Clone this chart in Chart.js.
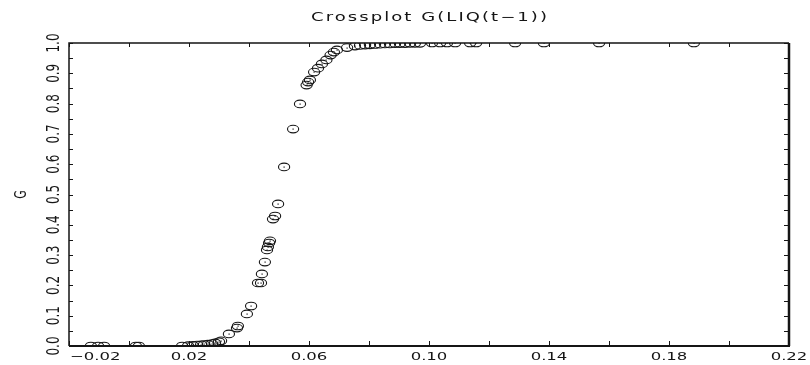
<!DOCTYPE html>
<html>
<head>
<meta charset="utf-8">
<script src="https://cdn.jsdelivr.net/npm/chart.js@4/dist/chart.umd.min.js"></script>
<style>
  html, body { margin: 0; padding: 0; background: #fff; }
  #wrap { width: 810px; height: 365px; position: relative; }
</style>
</head>
<body>
<div id="wrap"><canvas id="crossplot"></canvas></div>
<script>
// Crossplot of the transition function G against LIQ(t-1)
const chartTitle = 'Crossplot G(LIQ(t\u22121))';
const yTitle = 'G';

const liqValues = [
    -0.0127, -0.0103, -0.0083, 0.0023, 0.0033,
    0.0177, 0.0197, 0.0213, 0.0227, 0.0240, 0.0250, 0.0263, 0.0277, 0.0287, 0.0300, 0.0307,
    0.0333, 0.0360, 0.0363, 0.0393, 0.0407,
    0.0430, 0.0440, 0.0443, 0.0453, 0.0460, 0.0463, 0.0467, 0.0470, 0.0480, 0.0487, 0.0497,
    0.0517, 0.0547, 0.0570, 0.0592, 0.0597, 0.0603, 0.0617, 0.0630, 0.0643, 0.0658, 0.0672,
    0.0683, 0.0693, 0.0727,
    0.0753, 0.0770, 0.0787, 0.0803, 0.0820, 0.0837, 0.0853, 0.0870, 0.0887, 0.0903, 0.0920,
    0.0937, 0.0953, 0.0970,
    0.1010, 0.1037, 0.1060, 0.1087, 0.1137, 0.1157, 0.1287, 0.1383, 0.1567, 0.1883
];
const gValues = [
    0, 0, 0, 0, 0,
    0.000, 0.001, 0.002, 0.003, 0.004, 0.005, 0.006, 0.008, 0.010, 0.014, 0.017,
    0.040, 0.059, 0.066, 0.106, 0.132,
    0.208, 0.208, 0.238, 0.277, 0.317, 0.327, 0.340, 0.347, 0.419, 0.429, 0.469,
    0.591, 0.716, 0.799, 0.861, 0.871, 0.878, 0.904, 0.917, 0.931, 0.944, 0.960,
    0.970, 0.977, 0.985,
    0.990, 0.992, 0.993, 0.994, 0.995, 0.996, 0.997, 0.997, 0.998, 0.998, 0.998,
    0.999, 0.999, 0.999,
    1, 1, 1, 1, 1, 1, 1, 1, 1, 1
];

const xTickLabels = [-0.02, 0.02, 0.06, 0.10, 0.14, 0.18, 0.22];
const yTickLabels = [0.0, 0.1, 0.2, 0.3, 0.4, 0.5, 0.6, 0.7, 0.8, 0.9, 1.0];

const inkColor = '#151515';
const stretch = 1.5;   // the old plot is squashed wider than tall

function drawText(ctx, text, x, y, size, opts = {}) {
    ctx.save();
    ctx.font = size + 'px "DejaVu Sans"';
    ctx.fillStyle = inkColor;
    ctx.textAlign = opts.align || 'center';
    ctx.textBaseline = 'middle';
    let spacing = 0;
    if (opts.width) {
        const natural = ctx.measureText(text).width;
        spacing = Math.max(0, (opts.width / stretch - natural) / text.length);
        ctx.letterSpacing = spacing + 'px';
    }
    ctx.translate(x, y);
    if (!opts.noStretch) ctx.scale(stretch, 1);
    if (opts.rotate) ctx.rotate(-Math.PI / 2);
    const dx = ctx.textAlign === 'center' ? spacing / 2 : 0;
    ctx.fillText(text, dx, 0);
    ctx.restore();
}

// markers: open ellipse with a dot, placed where the scatter elements sit
const markerPlugin = {
    id: 'markers',
    afterDatasetsDraw(chart) {
        const { ctx, chartArea: a } = chart;
        const meta = chart.getDatasetMeta(0);
        ctx.save();
        ctx.beginPath();
        ctx.rect(a.left, a.top, a.right - a.left, a.bottom - a.top);
        ctx.clip();
        ctx.strokeStyle = inkColor;
        ctx.fillStyle = inkColor;
        ctx.lineWidth = 1.1;
        meta.data.forEach(pt => {
            ctx.beginPath();
            ctx.ellipse(pt.x, pt.y, 5.6, 3.8, 0, 0, Math.PI * 2);
            ctx.stroke();
            ctx.fillRect(Math.round(pt.x) - 0.5, Math.round(pt.y) - 0.5, 1.2, 1.2);
        });
        ctx.restore();
    }
};

const framePlugin = {
    id: 'frame',
    afterDraw(chart) {
        const { ctx, chartArea: a, scales: { x, y } } = chart;
        ctx.save();
        ctx.strokeStyle = inkColor;

        // tick marks, pointing into the plot on all four sides
        ctx.lineWidth = 1;
        ctx.beginPath();
        for (let i = 0; i <= 12; i++) {
            const px = Math.round(x.getPixelForValue(-0.02 + i * 0.02)) + 0.5;
            ctx.moveTo(px, a.bottom); ctx.lineTo(px, a.bottom - 5);
            ctx.moveTo(px, a.top); ctx.lineTo(px, a.top + 4);
        }
        for (let i = 0; i <= 20; i++) {
            const py = Math.round(y.getPixelForValue(i * 0.05)) + 0.5;
            ctx.moveTo(a.left, py); ctx.lineTo(a.left + 4, py);
            ctx.moveTo(a.right, py); ctx.lineTo(a.right - 5, py);
        }
        ctx.stroke();

        // frame: right and bottom sides are heavier
        ctx.lineWidth = 1.5;
        ctx.beginPath();
        ctx.moveTo(a.left, a.bottom); ctx.lineTo(a.left, a.top); ctx.lineTo(a.right, a.top);
        ctx.stroke();
        ctx.lineWidth = 2.5;
        ctx.beginPath();
        ctx.moveTo(a.right, a.top); ctx.lineTo(a.right, a.bottom);
        ctx.stroke();
        ctx.lineWidth = 2;
        ctx.beginPath();
        ctx.moveTo(a.right + 1, a.bottom); ctx.lineTo(a.left, a.bottom);
        ctx.stroke();
        ctx.restore();

        // x tick labels
        xTickLabels.forEach((v, i) => {
            const txt = (v < 0 ? '\u2212' : '') + Math.abs(v).toFixed(2);
            if (i === 0) {
                drawText(ctx, txt, a.left + 1, 357, 11, { align: 'left' });
            } else {
                drawText(ctx, txt, x.getPixelForValue(v), 357, 11);
            }
        });

        // y tick labels, turned on their side
        yTickLabels.forEach(v => {
            drawText(ctx, v.toFixed(1), 54, y.getPixelForValue(v), 12, { rotate: true });
        });

        drawText(ctx, yTitle, 22, (a.top + a.bottom) / 2, 11, { rotate: true });
        drawText(ctx, chartTitle, (a.left + a.right) / 2, 18, 12, { width: 238 });
    }
};

document.addEventListener('DOMContentLoaded', function() {
    const points = liqValues.map((v, i) => ({ x: v, y: gValues[i] }));

    new Chart(document.getElementById('crossplot'), {
        type: 'scatter',
        data: {
            datasets: [{
                data: points,
                pointRadius: 5,
                pointBackgroundColor: 'rgba(0,0,0,0)',
                pointBorderColor: 'rgba(0,0,0,0)',
                pointBorderWidth: 0,
                clip: 0
            }]
        },
        options: {
            responsive: true,
            maintainAspectRatio: false,
            animation: false,
            layout: { padding: { left: 69, right: 21, top: 43, bottom: 19 } },
            plugins: {
                legend: { display: false },
                tooltip: { enabled: false }
            },
            scales: {
                x: { type: 'linear', min: -0.02, max: 0.22, display: false },
                y: { type: 'linear', min: 0, max: 1, display: false }
            }
        },
        plugins: [markerPlugin, framePlugin]
    });
});
</script>
</body>
</html>
